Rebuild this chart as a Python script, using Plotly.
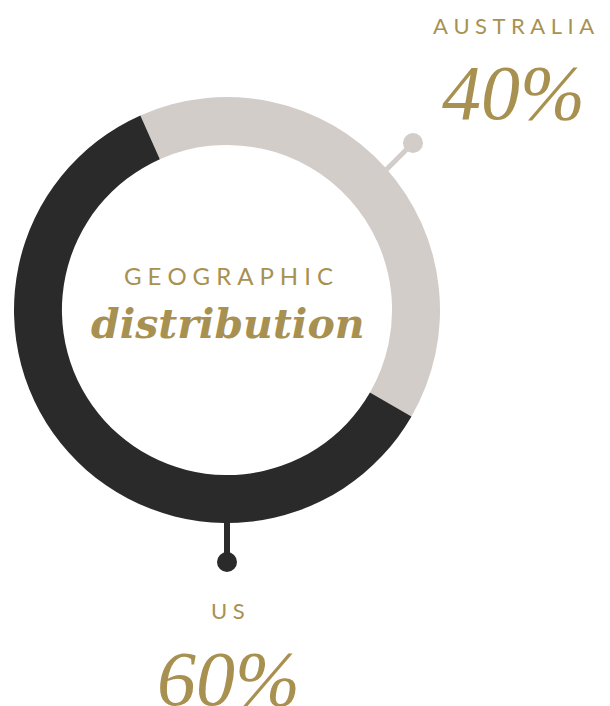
import plotly.graph_objects as go

regions = ["Australia", "US"]
shares = [40, 60]
colors = ["#d3cdca", "#2a2a2a"]
gold = "#a89150"

W, H = 610, 706
cx, cy, R = 227, 310, 213

fig = go.Figure()
fig.add_trace(go.Pie(
    labels=regions, values=shares, hole=0.775, sort=False, direction="clockwise",
    rotation=-24, marker=dict(colors=colors, line=dict(width=0)),
    textinfo="none", hoverinfo="label+percent", showlegend=False,
    domain=dict(x=[(cx - R) / W, (cx + R) / W], y=[(H - cy - R) / H, (H - cy + R) / H]),
))

# connectors
fig.add_shape(type="line", x0=386, y0=170, x1=413, y1=143, line=dict(color=colors[0], width=5), layer="below")
fig.add_shape(type="circle", x0=403, y0=133, x1=423, y1=153, fillcolor=colors[0], line=dict(width=0))
fig.add_shape(type="line", x0=227, y0=518, x1=227, y1=562, line=dict(color=colors[1], width=6))
fig.add_shape(type="circle", x0=217, y0=552, x1=237, y1=572, fillcolor=colors[1], line=dict(width=0))

def spaced(s, sep="\u2009\u2009"):
    return sep.join(list(s))

ann = []
def txt(x, y, t, size, family, style="normal", weight="normal"):
    ann.append(dict(x=x, y=y, xref="x", yref="y", text=t, showarrow=False,
                    xanchor="center", yanchor="middle",
                    font=dict(size=size, family=family, color=gold, style=style, weight=weight)))

sans = "Lato"
serif = "Liberation Serif"
txt(cx + 1, 275, spaced("GEOGRAPHIC"), 24, sans)
txt(cx + 1, 324, "distribution", 41, "DejaVu Serif", style="italic", weight="bold")
txt(513, 25, spaced("AUSTRALIA"), 22, sans)
txt(513, 92, f"{shares[0]}%", 78, serif, style="italic")
txt(228, 610, spaced(regions[1].upper()), 22, sans)
txt(228, 678, f"{shares[1]}%", 78, serif, style="italic")

fig.update_layout(
    width=W, height=H, margin=dict(l=0, r=0, t=0, b=0),
    paper_bgcolor="white", plot_bgcolor="rgba(0,0,0,0)",
    xaxis=dict(range=[0, W], visible=False, fixedrange=True),
    yaxis=dict(range=[H, 0], visible=False, fixedrange=True),
    annotations=ann, showlegend=False,
)
fig.write_html("out.html", config={"displayModeBar": False},
               post_script="document.body.style.margin='0';")
